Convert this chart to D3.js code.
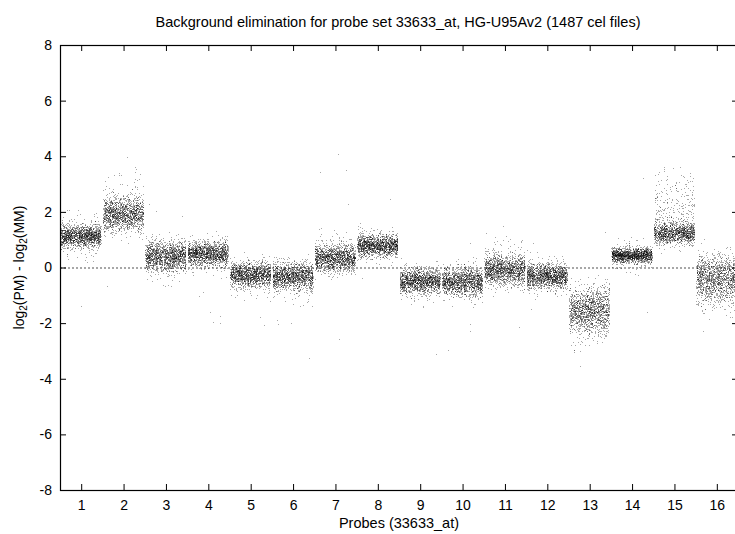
<!DOCTYPE html>
<html>
<head>
<meta charset="utf-8">
<script src="https://cdn.jsdelivr.net/npm/d3@7"></script>
<style>
  html, body { margin: 0; padding: 0; background: #fff; }
  svg { display: block; font-family: "Liberation Sans", Helvetica, Arial, sans-serif; }
</style>
</head>
<body>
<svg id="chart" width="735" height="534"></svg>
<script>
// Probe labels along the x axis
const probeLabels = ["1","2","3","4","5","6","7","8","9","10","11","12","13","14","15","16"];

// log2(PM) - log2(MM) per probe, summarised as counts of cel files in 0.1-wide bins.
// binStart holds the lower edge of the first bin for each probe.
const binWidth = 0.1;
const binStart = [0.17, 0.85, -0.75, -0.46, -1.22, -1.48, -0.52, -0.07,
                  -1.45, -1.47, -1.05, -1.17, -3.10, -0.32, 0.47, -1.93];
const binCounts = [
  [2, 3, 4, 6, 14, 40, 94, 176, 256, 297, 256, 176, 94, 40, 14, 6, 4, 3, 2],
  [1, 2, 5, 12, 25, 47, 78, 116, 154, 182, 184, 182, 156, 120, 84, 54, 32, 18, 10, 7, 5, 4, 3, 2, 2, 1, 1],
  [2, 2, 3, 4, 9, 19, 40, 73, 119, 167, 205, 218, 205, 167, 119, 73, 40, 18, 7, 3, 1],
  [2, 2, 3, 6, 18, 50, 105, 176, 246, 280, 246, 176, 105, 50, 18, 6, 2, 1],
  [2, 3, 4, 8, 20, 52, 105, 177, 242, 268, 242, 177, 105, 52, 20, 7, 2, 1],
  [2, 2, 3, 4, 6, 12, 30, 63, 112, 168, 222, 250, 222, 168, 112, 63, 30, 12, 4, 1],
  [1, 4, 12, 30, 63, 112, 168, 220, 246, 220, 168, 112, 63, 32, 14, 7, 4, 3, 2, 1],
  [1, 2, 3, 12, 38, 94, 176, 264, 300, 264, 176, 94, 40, 14, 5, 2, 1],
  [1, 2, 4, 8, 21, 52, 106, 178, 244, 272, 244, 178, 106, 50, 19, 6, 2, 1],
  [2, 2, 5, 13, 32, 66, 115, 172, 219, 237, 219, 172, 115, 66, 32, 13, 5, 2, 1],
  [1, 3, 8, 19, 40, 73, 119, 167, 198, 205, 196, 165, 119, 75, 42, 22, 11, 7, 5, 4, 3, 2, 1],
  [1, 3, 7, 20, 52, 107, 179, 244, 270, 244, 179, 107, 52, 20, 9, 4, 2, 1],
  [2, 2, 3, 4, 6, 9, 15, 24, 36, 52, 70, 90, 109, 126, 137, 141, 137, 126, 108, 88, 67, 49, 33, 21, 12, 7, 4, 2, 1],
  [2, 2, 4, 8, 32, 138, 334, 450, 334, 138, 32, 8, 4, 2, 1],
  [2, 3, 6, 24, 71, 155, 225, 260, 225, 160, 85, 40, 25, 20, 18, 17, 16, 15, 14, 13, 12, 11, 10, 9, 8, 7, 6, 5, 4, 3, 2, 1],
  [1, 2, 3, 5, 8, 13, 20, 29, 40, 56, 73, 90, 107, 121, 130, 134, 129, 118, 102, 84, 64, 46, 30, 18, 10, 5, 3, 2, 1]
];

// Isolated cel files lying away from their probe's main cloud
const outlierProbe = [1, 1, 1, 2, 2, 2, 2, 2, 2, 3, 3, 3, 4, 4, 4, 4, 4, 4, 5, 5, 5, 6, 6, 6, 6,
                      7, 7, 7, 7, 7, 8, 8, 9, 9, 10, 10, 10, 10, 11, 11, 11, 12, 12, 13, 13, 14, 14, 15, 16, 16];
const outlierValue = [2.06, -1.41, 0.2, 3.95, 3.59, 3.31, 3.4, 3.35, -0.67, 2.27, 1.82, 2.0, -0.91, -1.03, -1.6, -1.75, -2.0, -1.98,
                      -2.1, -1.8, -1.08, -2.05, -3.27, -1.9, -2.0, 4.06, 3.5, 3.4, 2.27, -2.59, 2.45, -0.4,
                      -1.4, -3.13, -2.05, -2.29, 0.86, -3.0, 1.46, -2.16, 0.9, 0.86, -1.5, -3.55, 1.27, -1.63, 3.19, 3.59, -2.3, 1.0];

const yTicks = [-8, -6, -4, -2, 0, 2, 4, 6, 8];

const titleText = "Background elimination for probe set 33633_at, HG-U95Av2 (1487 cel files)";
const xLabelText = "Probes (33633_at)";

// ---------------------------------------------------------------------------
const svg = d3.select("#chart");
const margin = { left: 60, right: 738, top: 45, bottom: 490 };
const fontSize = 14;

const x = d3.scaleLinear().domain([0.5, 16.5]).range([margin.left, margin.right]);
const y = d3.scaleLinear().domain([-8, 8]).range([margin.bottom, margin.top]);

// Deterministic scatter of a dot inside its bin / probe column (integer hash -> [0,1))
function hash01(n) {
  let h = (n | 0) ^ 0x9e3779b9;
  h = Math.imul(h ^ (h >>> 16), 0x85ebca6b);
  h = Math.imul(h ^ (h >>> 13), 0xc2b2ae35);
  h ^= h >>> 16;
  return (h >>> 0) / 4294967296;
}
const halfWidth = 0.475;

const points = [];
binCounts.forEach((counts, p) => {
  let i = 0;
  counts.forEach((c, b) => {
    for (let k = 0; k < c; k++, i++) {
      const key = (p + 1) * 100003 + i;
      const ux = hash01(key * 2 + 1);
      const uy = hash01(key * 2 + 2);
      points.push({
        probe: p + 1 + (ux - 0.5) * 2 * halfWidth,
        value: binStart[p] + binWidth * (b + uy)
      });
    }
  });
});
outlierProbe.forEach((p, j) => {
  const ux = hash01(7919 * (j + 3));
  points.push({ probe: p + (ux - 0.5) * 2 * halfWidth * 0.9, value: outlierValue[j] });
});

// zero reference line
svg.append("line")
  .attr("x1", x(0.5)).attr("x2", x(16.5))
  .attr("y1", y(0) + 0.5).attr("y2", y(0) + 0.5)
  .attr("stroke", "#8a8a8a").attr("stroke-width", 1.3)
  .attr("stroke-dasharray", "2,2");

// cel-file dots
svg.append("g")
  .attr("shape-rendering", "crispEdges")
  .selectAll("rect")
  .data(points)
  .join("rect")
  .attr("x", d => Math.floor(x(d.probe)))
  .attr("y", d => Math.floor(y(d.value)))
  .attr("width", 1).attr("height", 1)
  .attr("fill", "#000")
  .attr("fill-opacity", 0.34);

// axes: ticks point inward on all four sides
const fmtProbe = (d) => probeLabels[d - 1];
const probeTicks = probeLabels.map((_, i) => i + 1);

const gBottom = svg.append("g").attr("transform", `translate(0,${margin.bottom})`)
  .call(d3.axisBottom(x).tickValues(probeTicks).tickFormat(fmtProbe).tickSize(-6).tickSizeOuter(0).tickPadding(10));
const gTop = svg.append("g").attr("transform", `translate(0,${margin.top})`)
  .call(d3.axisTop(x).tickValues(probeTicks).tickFormat("").tickSize(-6).tickSizeOuter(0));
const gLeft = svg.append("g").attr("transform", `translate(${margin.left},0)`)
  .call(d3.axisLeft(y).tickValues(yTicks).tickFormat(d => String(d)).tickSize(-6).tickSizeOuter(0).tickPadding(8));
const gRight = svg.append("g").attr("transform", `translate(${margin.right},0)`)
  .call(d3.axisRight(y).tickValues(yTicks).tickFormat("").tickSize(-6).tickSizeOuter(0));

[gBottom, gTop, gLeft, gRight].forEach(g => {
  g.select(".domain").remove();
  g.selectAll(".tick line").attr("stroke", "#000").attr("stroke-width", 1);
  g.selectAll(".tick text").attr("font-size", fontSize).attr("fill", "#000")
    .attr("font-family", "Liberation Sans, Helvetica, Arial, sans-serif");
});

// plot border
svg.append("rect")
  .attr("x", margin.left + 0.5).attr("y", margin.top + 0.5)
  .attr("width", margin.right - margin.left).attr("height", margin.bottom - margin.top)
  .attr("fill", "none").attr("stroke", "#000").attr("stroke-width", 1.2);

// title
svg.append("text")
  .attr("x", 398).attr("y", 27)
  .attr("text-anchor", "middle").attr("font-size", fontSize + 0.5)
  .text(titleText);

// x axis label
svg.append("text")
  .attr("x", 399).attr("y", 528)
  .attr("text-anchor", "middle").attr("font-size", fontSize + 0.5)
  .text(xLabelText);

// y axis label with subscripts
const yl = svg.append("text")
  .attr("transform", `translate(24,${y(0)}) rotate(-90)`)
  .attr("text-anchor", "middle").attr("font-size", fontSize);
yl.append("tspan").text("log");
yl.append("tspan").attr("font-size", 10).attr("dy", 3).text("2");
yl.append("tspan").attr("dy", -3).text("(PM) - log");
yl.append("tspan").attr("font-size", 10).attr("dy", 3).text("2");
yl.append("tspan").attr("dy", -3).text("(MM)");
</script>
</body>
</html>
